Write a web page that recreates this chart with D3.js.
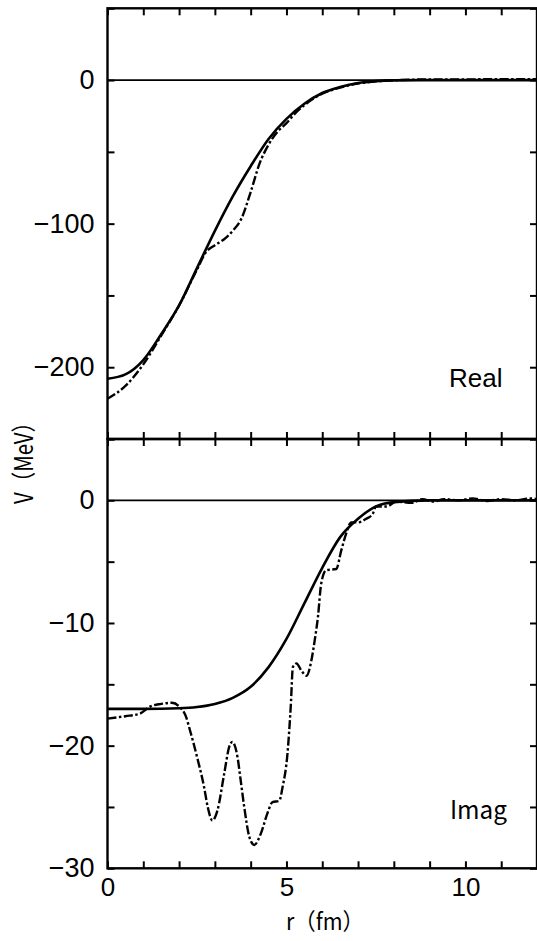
<!DOCTYPE html>
<html><head><meta charset="utf-8">
<script src="https://cdn.jsdelivr.net/npm/d3@7"></script>
<style>
html,body{margin:0;padding:0;background:#fff;}
svg{display:block;}
</style></head>
<body><svg id="c" width="537" height="941"></svg>
<script>
// ---- data ----
const xTickLabels = [0, 5, 10];
const realTickLabels = [0, -100, -200];
const imagTickLabels = [0, -10, -20, -30];

const realSolidR = [0,0.5,1,1.5,2,2.5,3,3.5,4,4.5,5,5.5,6,6.5,7,7.5,8,9,10,11,12];
const realSolidV = [-208,-205,-195,-177,-157,-131,-105,-81,-60,-41,-27,-16.5,-9,-4.8,-2,-0.7,-0.2,0,0,0,0];

const realDashR = [0,0.5,1,1.5,2,2.5,2.75,3,3.25,3.5,3.75,4,4.25,4.5,4.75,5,5.25,5.5,6,6.5,7,7.5,8,8.5,9,10,11,12];
const realDashV = [-222,-213,-198,-178,-157,-132,-120,-115,-111,-105,-96,-78,-58,-45,-36,-30,-23,-17.5,-9.5,-5.2,-2.4,-0.9,-0.2,0.3,0.5,0.5,0.6,0.6];

const imagSolidR = [0,1,2,2.5,3,3.5,4,4.5,5,5.5,6,6.5,7,7.5,8,9,10,11,12];
const imagSolidV = [-17,-17,-16.95,-16.85,-16.6,-16.1,-15.2,-13.6,-11.3,-8.4,-5.5,-3.0,-1.5,-0.5,-0.15,0,0,0,0];

const imagDashR = [0,0.5,0.9,1.2,1.5,1.8,2.0,2.2,2.3,2.5,2.7,2.8,2.93,3.07,3.26,3.4,3.49,3.63,3.72,3.82,3.96,4.1,4.28,4.47,4.61,4.8,4.89,5.03,5.12,5.18,5.28,5.42,5.56,5.7,5.79,5.88,5.97,6.11,6.39,6.53,6.67,6.81,7.0,7.23,7.41,7.5,7.8,8.07,8.5,8.8,9.1,9.4,9.8,10.2,10.6,11.0,11.4,11.8,12];
const imagDashV = [-17.8,-17.6,-17.4,-16.8,-16.6,-16.5,-16.8,-17.7,-18.7,-20.9,-23.4,-25.0,-26.1,-25.3,-22.3,-20.1,-19.7,-20.9,-22.8,-25.0,-27.4,-28.1,-27.2,-25.5,-24.6,-24.5,-23.4,-20.6,-16.8,-13.6,-13.3,-13.9,-14.3,-13.0,-11.4,-9.5,-6.8,-5.7,-5.6,-4.1,-2.7,-1.8,-1.8,-1.5,-1.1,-0.5,-0.5,-0.1,-0.2,0.1,-0.1,0.1,0.0,0.15,-0.05,0.1,0.0,0.15,0.1];

// ---- layout ----
const svg = d3.select("#c");
const x = d3.scaleLinear().domain([0, 12]).range([107.5, 537]);
const yReal = d3.scaleLinear().domain([-250, 50]).range([439, 8.3]);
const yImag = d3.scaleLinear().domain([-30, 5]).range([868.3, 439]);

const tickFont = "'Liberation Sans', Arial, sans-serif";
const jpFont = "'Noto Sans CJK JP', sans-serif";

function panel(y, yMinor, yLabels, solidR, solidV, dashR, dashV, name, nameFont, nameSize, nameLen, nameX, nameY, showX) {
  const g = svg.append("g");
  const [x0, x1] = x.range();
  const [yb, yt] = y.range();
  const tk = 7;
  const minorX = d3.range(0, 13, 1);

  // inward ticks
  const axes = [
    d3.axisBottom(x).tickValues(minorX).tickSize(-tk).tickFormat(""),
    d3.axisTop(x).tickValues(minorX).tickSize(-tk).tickFormat(""),
    d3.axisLeft(y).tickValues(yMinor).tickSize(-tk).tickFormat(""),
    d3.axisRight(y).tickValues(yMinor).tickSize(-tk).tickFormat("")
  ];
  const tr = [`translate(0,${yb})`, `translate(0,${yt})`, `translate(${x0},0)`, `translate(${x1},0)`];
  axes.forEach((a, i) => {
    const ag = g.append("g").attr("transform", tr[i]).call(a);
    ag.select(".domain").remove();
    ag.selectAll("line").attr("stroke", "#000").attr("stroke-width", 2);
  });

  // y labels
  const yl = g.append("g").attr("transform", `translate(${x0},0)`)
    .call(d3.axisLeft(y).tickValues(yLabels).tickSize(0).tickPadding(13));
  yl.select(".domain").remove();
  yl.selectAll("text").attr("font-family", tickFont).attr("font-size", 27).attr("fill", "#000");

  if (showX) {
    const xl = g.append("g").attr("transform", `translate(0,${yb})`)
      .call(d3.axisBottom(x).tickValues(xTickLabels).tickSize(0).tickPadding(10));
    xl.select(".domain").remove();
    xl.selectAll("text").attr("font-family", tickFont).attr("font-size", 26).attr("fill", "#000")
      .attr("dy", "0.68em");
  }

  // zero line
  g.append("line").attr("x1", x0).attr("x2", x1).attr("y1", y(0)).attr("y2", y(0))
    .attr("stroke", "#000").attr("stroke-width", 1.7);

  const clipId = "clip" + name;
  svg.append("clipPath").attr("id", clipId).append("rect")
    .attr("x", x0).attr("y", yt).attr("width", x1 - x0).attr("height", yb - yt);

  const line = d3.line().x(d => x(d[0])).y(d => y(d[1])).curve(d3.curveMonotoneX);
  g.append("path").datum(dashR.map((r, i) => [r, dashV[i]]))
    .attr("d", line).attr("fill", "none").attr("stroke", "#000")
    .attr("stroke-width", 2.4).attr("stroke-dasharray", "9,2.5,2.5,2.5")
    .attr("clip-path", `url(#${clipId})`);
  g.append("path").datum(solidR.map((r, i) => [r, solidV[i]]))
    .attr("d", line).attr("fill", "none").attr("stroke", "#000")
    .attr("stroke-width", 2.6).attr("clip-path", `url(#${clipId})`);

  // frame
  g.append("rect").attr("x", x0).attr("y", yt).attr("width", x1 - x0).attr("height", yb - yt)
    .attr("fill", "none").attr("stroke", "#000").attr("stroke-width", 2.4);

  const t = g.append("text").attr("x", nameX).attr("y", nameY).text(name)
    .attr("font-family", nameFont).attr("font-size", nameSize).attr("fill", "#000");
  if (nameLen) t.attr("textLength", nameLen).attr("lengthAdjust", "spacingAndGlyphs");
}

panel(yReal, d3.range(-250, 51, 50), realTickLabels, realSolidR, realSolidV, realDashR, realDashV,
      "Real", tickFont, 26, null, 449, 387, false);
panel(yImag, d3.range(-30, 6, 5), imagTickLabels, imagSolidR, imagSolidV, imagDashR, imagDashV,
      "Imag", jpFont, 25, 57, 450, 819, true);

// axis titles
svg.append("text").attr("x", 286).attr("y", 930)
  .attr("font-family", jpFont).attr("font-size", 23).attr("fill", "#000")
  .attr("textLength", 78).attr("lengthAdjust", "spacingAndGlyphs").text("r（fm）");
svg.append("text").attr("transform", "translate(33,504) rotate(-90)")
  .attr("font-family", jpFont).attr("font-size", 25).attr("fill", "#000")
  .attr("textLength", 92).attr("lengthAdjust", "spacingAndGlyphs").text("V（MeV）");
</script>
</body></html>
